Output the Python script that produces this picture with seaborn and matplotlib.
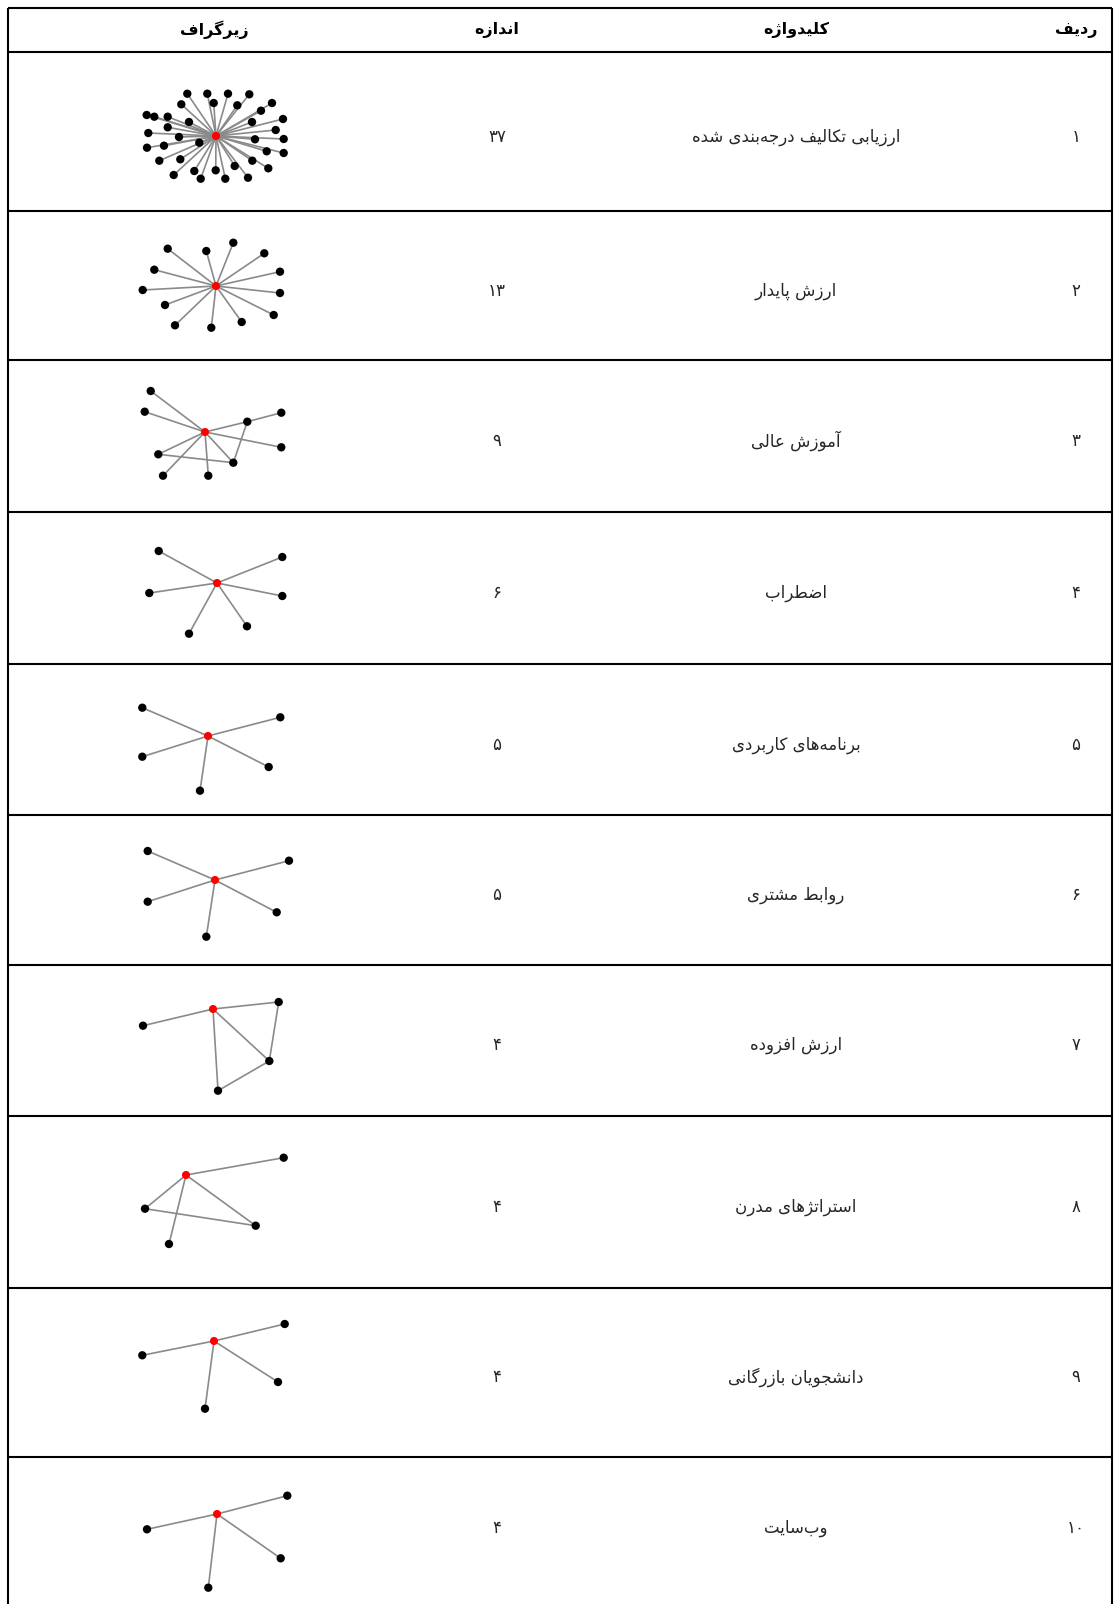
import numpy as np
import pandas as pd
import matplotlib
matplotlib.use("Agg")
import matplotlib.pyplot as plt
import seaborn as sns
from matplotlib.collections import LineCollection

# ---------------- data ----------------
headers = ["ردیف", "کلیدواژه", "اندازه", "زیرگراف"]
row_ids = [1, 2, 3, 4, 5, 6, 7, 8, 9, 10]
keywords = [
    "ارزیابی تکالیف درجه\u200cبندی شده",
    "ارزش پایدار",
    "آموزش عالی",
    "اضطراب",
    "برنامه\u200cهای کاربردی",
    "روابط مشتری",
    "ارزش افزوده",
    "استراتژهای مدرن",
    "دانشجویان بازرگانی",
    "وب\u200cسایت",
]
sizes = [37, 13, 9, 6, 5, 5, 4, 4, 4, 4]

# sub-graph layouts (node 0 = keyword node, layout units ~ px, y downward)
g1_x = [0, -28.7, -8.7, 12, 33.3, -34.7, -2.3, 21.3, 56, -69.3, -61.7, -48.3, -27, 45, 67, 36,
        -67.7, -48.3, -37, -16.7, 59.7, 39, 67.7, -69, -52, 50.7, 67.7, -56.7, -35.7, 36.3, 52.3,
        -42.3, -21.7, -0.3, 18.7, -15.3, 9.3, 32]
g1_y = [0, -42.3, -42.3, -42.3, -41.7, -31.7, -33, -30.7, -33, -21, -19.3, -19.3, -14, -25.3, -17, -14,
        -3, -8.7, 1, 6.7, -6, 3.3, 3, 11.7, 9.7, 15.3, 17, 24.7, 23.3, 24.7, 32.3,
        39, 35, 34.3, 30, 42.7, 42.7, 41.7]

g2_x = [0, -48.3, -9.7, 17.3, 48.3, -61.7, 64, -73.3, 64, -51, 57.7, -41, -4.7, 25.7]
g2_y = [0, -37.3, -35, -43.3, -32.7, -16.3, -14.3, 4, 7, 19, 29, 39.3, 41.7, 36]

g3_x = [0, -54.3, -60.3, 42.3, 76.3, 76.3, -46.7, 28.3, -42, 3.3]
g3_y = [0, -41, -20.3, -10.3, -19.3, 15.3, 22.3, 30.7, 43.7, 43.7]
g3_edges = [(0, 1), (0, 2), (0, 3), (3, 4), (0, 5), (0, 6), (6, 7), (0, 7), (3, 7), (0, 8), (0, 9)]

g4_x = [0, -58.3, 65.3, -67.7, 65.3, -28, 30]
g4_y = [0, -32, -26, 10, 13, 50.7, 43.3]

g5_x = [0, -65.7, 72.3, -65.7, 60.7, -8]
g5_y = [0, -28.3, -18.7, 20.7, 31, 54.7]

g6_x = [0, -67.3, 74, -67.3, 61.7, -8.7]
g6_y = [0, -29, -19.3, 21.7, 32.3, 56.7]

g7_x = [0, -70, 65.7, 56.3, 5]
g7_y = [0, 16.7, -7, 52, 81.7]
g7_edges = [(0, 1), (0, 2), (2, 3), (0, 3), (0, 4), (4, 3)]

g8_x = [0, 97.7, -41, 69.7, -17]
g8_y = [0, -17.3, 33.7, 50.7, 69]
g8_edges = [(0, 1), (0, 2), (0, 3), (0, 4), (2, 3)]

g9_x = [0, -71.7, 70.7, 64, -9]
g9_y = [0, 14.3, -17, 41, 67.7]

g10_x = [0, -70, 70.3, 63.7, -8.7]
g10_y = [0, 15.3, -18.3, 44.3, 73.7]


def star(n):
    return [(0, i) for i in range(1, n)]


graphs = [
    (g1_x, g1_y, star(len(g1_x))),
    (g2_x, g2_y, star(len(g2_x))),
    (g3_x, g3_y, g3_edges),
    (g4_x, g4_y, star(len(g4_x))),
    (g5_x, g5_y, star(len(g5_x))),
    (g6_x, g6_y, star(len(g6_x))),
    (g7_x, g7_y, g7_edges),
    (g8_x, g8_y, g8_edges),
    (g9_x, g9_y, star(len(g9_x))),
    (g10_x, g10_y, star(len(g10_x))),
]

# ---------------- Persian shaping helpers ----------------
FORMS = {
    "ا": ("\uFE8D", "\uFE8E", None, None),
    "آ": ("\uFE81", "\uFE82", None, None),
    "ب": ("\uFE8F", "\uFE90", "\uFE91", "\uFE92"),
    "پ": ("\uFB56", "\uFB57", "\uFB58", "\uFB59"),
    "ت": ("\uFE95", "\uFE96", "\uFE97", "\uFE98"),
    "ج": ("\uFE9D", "\uFE9E", "\uFE9F", "\uFEA0"),
    "د": ("\uFEA9", "\uFEAA", None, None),
    "ر": ("\uFEAD", "\uFEAE", None, None),
    "ز": ("\uFEAF", "\uFEB0", None, None),
    "ژ": ("\uFB8A", "\uFB8B", None, None),
    "س": ("\uFEB1", "\uFEB2", "\uFEB3", "\uFEB4"),
    "ش": ("\uFEB5", "\uFEB6", "\uFEB7", "\uFEB8"),
    "ض": ("\uFEBD", "\uFEBE", "\uFEBF", "\uFEC0"),
    "ط": ("\uFEC1", "\uFEC2", "\uFEC3", "\uFEC4"),
    "ع": ("\uFEC9", "\uFECA", "\uFECB", "\uFECC"),
    "ف": ("\uFED1", "\uFED2", "\uFED3", "\uFED4"),
    "ک": ("\uFB8E", "\uFB8F", "\uFB90", "\uFB91"),
    "گ": ("\uFB92", "\uFB93", "\uFB94", "\uFB95"),
    "ل": ("\uFEDD", "\uFEDE", "\uFEDF", "\uFEE0"),
    "م": ("\uFEE1", "\uFEE2", "\uFEE3", "\uFEE4"),
    "ن": ("\uFEE5", "\uFEE6", "\uFEE7", "\uFEE8"),
    "ه": ("\uFEE9", "\uFEEA", "\uFEEB", "\uFEEC"),
    "و": ("\uFEED", "\uFEEE", None, None),
    "ی": ("\uFBFC", "\uFBFD", "\uFBFE", "\uFBFF"),
}


def shape(text):
    chars = list(text)
    out = []

    def joins_next(c):
        return c in FORMS and FORMS[c][2] is not None

    for i, c in enumerate(chars):
        if c == "\u200c":
            continue
        if c not in FORMS:
            out.append(c)
            continue
        prev = chars[i - 1] if i > 0 else None
        nxt = chars[i + 1] if i + 1 < len(chars) else None
        jp = prev is not None and joins_next(prev)
        jn = joins_next(c) and nxt is not None and nxt in FORMS
        iso, fin, ini, med = FORMS[c]
        if jp and jn:
            g = med
        elif jp:
            g = fin
        elif jn:
            g = ini
        else:
            g = iso
        out.append(g)
    return "".join(reversed(out))


FA_DIGITS = str.maketrans("0123456789", "۰۱۲۳۴۵۶۷۸۹")


def fa_num(n):
    return str(n).translate(FA_DIGITS)


# ---------------- figure ----------------
sns.set_theme(style="white")
plt.rcParams["font.family"] = ["DejaVu Sans"]

W, H = 1114, 1604
fig = plt.figure(figsize=(W / 100, H / 100), dpi=100)
ax = fig.add_axes([0, 0, 1, 1])

# table layout (pixels)
top_line = 8
row_lines = [52, 211, 360, 512, 664, 815, 965, 1116, 1288, 1457]
last_row_text_y = 1528
left_x, right_x = 8, 1112
col_x = [1076, 796, 497, 214]   # ردیف, کلیدواژه, اندازه, زیرگراف
text_dy = 5
# position of the keyword (red) node of each sub-graph
anchors = [(216, 136), (216, 286), (205, 432), (217, 583), (208, 736),
           (215, 880), (213, 1009), (186, 1175), (214, 1341), (217, 1514)]

line_kw = dict(color="black", lw=1.5, solid_capstyle="butt")
ax.plot([left_x, right_x], [top_line, top_line], **line_kw)
for yl in row_lines:
    ax.plot([left_x, right_x], [yl, yl], **line_kw)
ax.plot([left_x, left_x], [top_line, H + 5], **line_kw)
ax.plot([right_x, right_x], [top_line, H + 5], **line_kw)

# header
hy = (top_line + row_lines[0]) / 2
for x, t in zip(col_x, headers):
    ax.text(x, hy, shape(t), ha="center", va="center",
            fontsize=11.5, fontweight="bold", color="black")

# rows
for i in range(len(row_ids)):
    if i < len(row_ids) - 1:
        yc = (row_lines[i] + row_lines[i + 1]) / 2 + text_dy
    else:
        yc = last_row_text_y
    ax.text(col_x[0], yc, fa_num(row_ids[i]), ha="center", va="center", fontsize=12)
    ax.text(col_x[1], yc, shape(keywords[i]), ha="center", va="center", fontsize=12)
    ax.text(col_x[2], yc, fa_num(sizes[i]), ha="center", va="center", fontsize=12)

    gx, gy, edges = graphs[i]
    px = np.asarray(gx, float) + anchors[i][0]
    py = np.asarray(gy, float) + anchors[i][1]
    segs = [[(px[a], py[a]), (px[b], py[b])] for a, b in edges]
    ax.add_collection(LineCollection(segs, colors="#8a8a8a", linewidths=1.2, zorder=2))
    df = pd.DataFrame({"x": px, "y": py,
                       "role": ["center"] + ["leaf"] * (len(px) - 1)})
    sns.scatterplot(data=df[df.role == "leaf"], x="x", y="y", color="black", s=36,
                    edgecolor="none", ax=ax, zorder=3, legend=False)
    sns.scatterplot(data=df[df.role == "center"], x="x", y="y", color="#ff0000", s=34,
                    edgecolor="none", ax=ax, zorder=4, legend=False)

ax.set_xlim(0, W)
ax.set_ylim(H, 0)
ax.axis("off")
fig.savefig("out.png", dpi=100)
